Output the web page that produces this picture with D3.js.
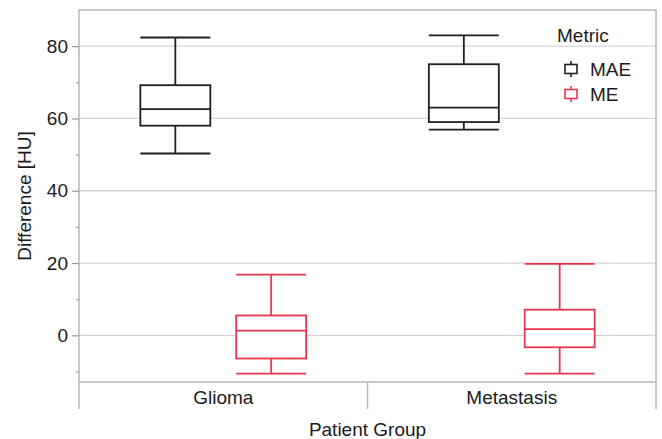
<!DOCTYPE html>
<html>
<head>
<meta charset="utf-8">
<script src="https://cdn.jsdelivr.net/npm/d3@7"></script>
<style>
  body { margin: 0; background: #fff; }
  text { font-family: "Liberation Sans", Arial, sans-serif; fill: #1a1a1a; }
</style>
</head>
<body>
<svg id="chart" width="662" height="439"></svg>
<script>
// data
const groups = ["Glioma", "Metastasis"];
const metrics = ["MAE", "ME"];
// [lower whisker, q1, median, q3, upper whisker] per group
const maeStats = [[50.3, 58.0, 62.6, 69.2, 82.4], [56.9, 59.0, 63.0, 75.0, 83.0]];
const meStats = [[-10.6, -6.4, 1.3, 5.5, 16.8], [-10.6, -3.3, 1.7, 7.1, 19.8]];
const yTicks = [0, 20, 40, 60, 80];
const yMinorTicks = [-10, 10, 30, 50, 70];
const colors = ["#1f1f1f", "#e8364f"];

const plotLeft = 79, plotRight = 656, plotTop = 10, plotBottom = 382;
const fontSize = "19px";

const svg = d3.select("#chart");

const x = d3.scaleBand().domain(groups).range([plotLeft, plotRight]).padding(0);
const xSub = d3.scaleBand().domain(metrics).range([0, x.bandwidth()])
  .paddingInner(0.27).paddingOuter(0.64);
const y = d3.scaleLinear().domain([-12.9, 90]).range([plotBottom, plotTop]);
const color = d3.scaleOrdinal().domain(metrics).range(colors);

// gridlines
svg.append("g")
  .selectAll("line")
  .data(yTicks)
  .join("line")
    .attr("x1", plotLeft).attr("x2", plotRight)
    .attr("y1", d => y(d)).attr("y2", d => y(d))
    .attr("stroke", "#d4d4d4").attr("stroke-width", 1.3);

// frame
svg.append("rect")
  .attr("x", plotLeft).attr("y", plotTop)
  .attr("width", plotRight - plotLeft).attr("height", plotBottom - plotTop)
  .attr("fill", "none").attr("stroke", "#b8b8b8").attr("stroke-width", 1.5);

// y axis
const yAxis = svg.append("g")
  .attr("transform", `translate(${plotLeft},0)`)
  .call(d3.axisLeft(y).tickValues(yTicks).tickSize(7).tickPadding(4));
yAxis.select(".domain").remove();
yAxis.selectAll("line").attr("stroke", "#999").attr("stroke-width", 1.2);
yAxis.selectAll("text").style("font-size", fontSize).attr("fill", "#1a1a1a")
  .style("font-family", "Liberation Sans, Arial, sans-serif");

const yMinor = svg.append("g")
  .attr("transform", `translate(${plotLeft},0)`)
  .call(d3.axisLeft(y).tickValues(yMinorTicks).tickSize(3).tickFormat(""));
yMinor.select(".domain").remove();
yMinor.selectAll("line").attr("stroke", "#999").attr("stroke-width", 1.2);

// category axis box
svg.append("g")
  .selectAll("line")
  .data([plotLeft, x("Metastasis"), plotRight])
  .join("line")
    .attr("x1", d => d).attr("x2", d => d)
    .attr("y1", plotBottom).attr("y2", 409)
    .attr("stroke", "#b8b8b8").attr("stroke-width", 1.5);

svg.append("g")
  .selectAll("text")
  .data(groups)
  .join("text")
    .attr("x", d => x(d) + x.bandwidth() / 2)
    .attr("y", 404)
    .attr("text-anchor", "middle")
    .style("font-size", fontSize)
    .text(d => d);

// axis titles
svg.append("text")
  .attr("x", (plotLeft + plotRight) / 2).attr("y", 436)
  .attr("text-anchor", "middle").style("font-size", fontSize)
  .text("Patient Group");

svg.append("text")
  .attr("transform", `translate(31,${(plotTop + plotBottom) / 2}) rotate(-90)`)
  .attr("text-anchor", "middle").style("font-size", fontSize)
  .text("Difference [HU]");

// boxes
const boxes = [];
groups.forEach((g, i) => {
  boxes.push({ group: g, metric: "MAE", s: maeStats[i] });
  boxes.push({ group: g, metric: "ME", s: meStats[i] });
});

const bw = xSub.bandwidth();
const bx = svg.append("g")
  .selectAll("g")
  .data(boxes)
  .join("g")
    .attr("transform", d => `translate(${x(d.group) + xSub(d.metric)},0)`)
    .attr("stroke", d => color(d.metric))
    .attr("stroke-width", 1.8)
    .attr("fill", "none");

bx.append("line") // whisker stem
  .attr("x1", bw / 2).attr("x2", bw / 2)
  .attr("y1", d => y(d.s[0])).attr("y2", d => y(d.s[4]));
bx.append("rect")
  .attr("x", 0).attr("width", bw)
  .attr("y", d => y(d.s[3]))
  .attr("height", d => y(d.s[1]) - y(d.s[3]))
  .attr("fill", "#fff");
bx.append("line") // median
  .attr("x1", 0).attr("x2", bw)
  .attr("y1", d => y(d.s[2])).attr("y2", d => y(d.s[2]));
bx.append("line") // low cap
  .attr("x1", 0).attr("x2", bw)
  .attr("y1", d => y(d.s[0])).attr("y2", d => y(d.s[0]));
bx.append("line") // high cap
  .attr("x1", 0).attr("x2", bw)
  .attr("y1", d => y(d.s[4])).attr("y2", d => y(d.s[4]));

// legend
const legend = svg.append("g");
legend.append("text")
  .attr("x", 557).attr("y", 42)
  .style("font-size", fontSize)
  .text("Metric");

const li = legend.selectAll("g.item")
  .data(metrics)
  .join("g")
    .attr("class", "item")
    .attr("transform", (d, i) => `translate(571,${69 + i * 25})`);
li.append("line")
  .attr("x1", 0).attr("x2", 0).attr("y1", -8).attr("y2", 8)
  .attr("stroke", d => color(d)).attr("stroke-width", 1.6);
li.append("rect")
  .attr("x", -6).attr("y", -4.5).attr("width", 12).attr("height", 9)
  .attr("fill", "#fff").attr("stroke", d => color(d)).attr("stroke-width", 1.6);
li.append("text")
  .attr("x", 19).attr("y", 7)
  .style("font-size", fontSize)
  .text(d => d);
</script>
</body>
</html>
